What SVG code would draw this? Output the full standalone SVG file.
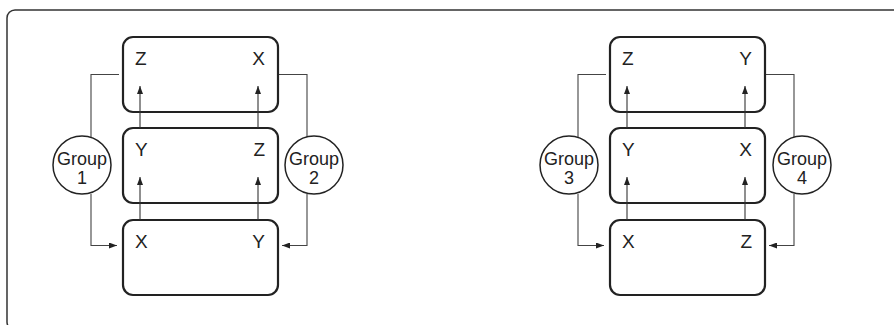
<svg xmlns="http://www.w3.org/2000/svg" width="894" height="325" viewBox="0 0 894 325">
<defs>
<marker id="ah" viewBox="0 0 8 6" refX="8" refY="3" markerWidth="8" markerHeight="6" markerUnits="userSpaceOnUse" orient="auto">
<path d="M0,0 L8,3 L0,6 z" fill="#222"/>
</marker>
<style>
.frame{fill:none;stroke:#333;stroke-width:1.5}
.box{fill:#fff;stroke:#222;stroke-width:2.2}
.circ{fill:#fff;stroke:#222;stroke-width:1.5}
.lbl{font-family:"Liberation Sans",Arial,sans-serif;font-size:19px;fill:#222}
.glbl{font-family:"Liberation Sans",Arial,sans-serif;font-size:18px;fill:#222;text-anchor:middle}
.ln{fill:none;stroke:#444;stroke-width:1.1}
.up{fill:none;stroke:#333;stroke-width:1.1;marker-end:url(#ah)}
</style>
</defs>
<rect class="frame" x="7" y="10" width="900" height="320" rx="8"/>

<g id="connectors">
<path class="ln" d="M119,74.5 H91 V137"/>
<path class="ln" d="M91,194 V245.5 H117" marker-end="url(#ah)"/>
<path class="ln" d="M278,74.5 H307 V137"/>
<path class="ln" d="M307,194 V245.5 H282" marker-end="url(#ah)"/>
<path class="ln" d="M606,74.5 H578 V137"/>
<path class="ln" d="M578,194 V245.5 H604" marker-end="url(#ah)"/>
<path class="ln" d="M765,74.5 H794 V137"/>
<path class="ln" d="M794,194 V245.5 H769" marker-end="url(#ah)"/>
</g>

<g id="left-top"><rect class="box" x="123" y="37" width="155" height="75" rx="10"/><text class="lbl" x="135" y="65">Z</text><text class="lbl" x="265" y="65" text-anchor="end">X</text></g>
<g id="left-mid"><rect class="box" x="123" y="128" width="155" height="75" rx="10"/><text class="lbl" x="135" y="156">Y</text><text class="lbl" x="265" y="156" text-anchor="end">Z</text></g>
<g id="left-bot"><rect class="box" x="123" y="220" width="155" height="75" rx="10"/><text class="lbl" x="135" y="248">X</text><text class="lbl" x="265" y="248" text-anchor="end">Y</text></g>

<g id="right-top"><rect class="box" x="610" y="37" width="155" height="75" rx="10"/><text class="lbl" x="622" y="65">Z</text><text class="lbl" x="752" y="65" text-anchor="end">Y</text></g>
<g id="right-mid"><rect class="box" x="610" y="128" width="155" height="75" rx="10"/><text class="lbl" x="622" y="156">Y</text><text class="lbl" x="752" y="156" text-anchor="end">X</text></g>
<g id="right-bot"><rect class="box" x="610" y="220" width="155" height="75" rx="10"/><text class="lbl" x="622" y="248">X</text><text class="lbl" x="752" y="248" text-anchor="end">Z</text></g>

<g id="arrows">
<line class="up" x1="140" y1="220" x2="140" y2="177"/>
<line class="up" x1="258" y1="220" x2="258" y2="177"/>
<line class="up" x1="140" y1="128" x2="140" y2="86"/>
<line class="up" x1="258" y1="128" x2="258" y2="86"/>
<line class="up" x1="627" y1="220" x2="627" y2="177"/>
<line class="up" x1="745" y1="220" x2="745" y2="177"/>
<line class="up" x1="627" y1="128" x2="627" y2="86"/>
<line class="up" x1="745" y1="128" x2="745" y2="86"/>
</g>

<g id="group1"><circle class="circ" cx="82" cy="165" r="29"/><text class="glbl" x="82" y="165">Group</text><text class="glbl" x="82" y="184">1</text></g>
<g id="group2"><circle class="circ" cx="314" cy="165" r="29"/><text class="glbl" x="314" y="165">Group</text><text class="glbl" x="314" y="184">2</text></g>
<g id="group3"><circle class="circ" cx="569" cy="165" r="29"/><text class="glbl" x="569" y="165">Group</text><text class="glbl" x="569" y="184">3</text></g>
<g id="group4"><circle class="circ" cx="802" cy="165" r="29"/><text class="glbl" x="802" y="165">Group</text><text class="glbl" x="802" y="184">4</text></g>
</svg>
